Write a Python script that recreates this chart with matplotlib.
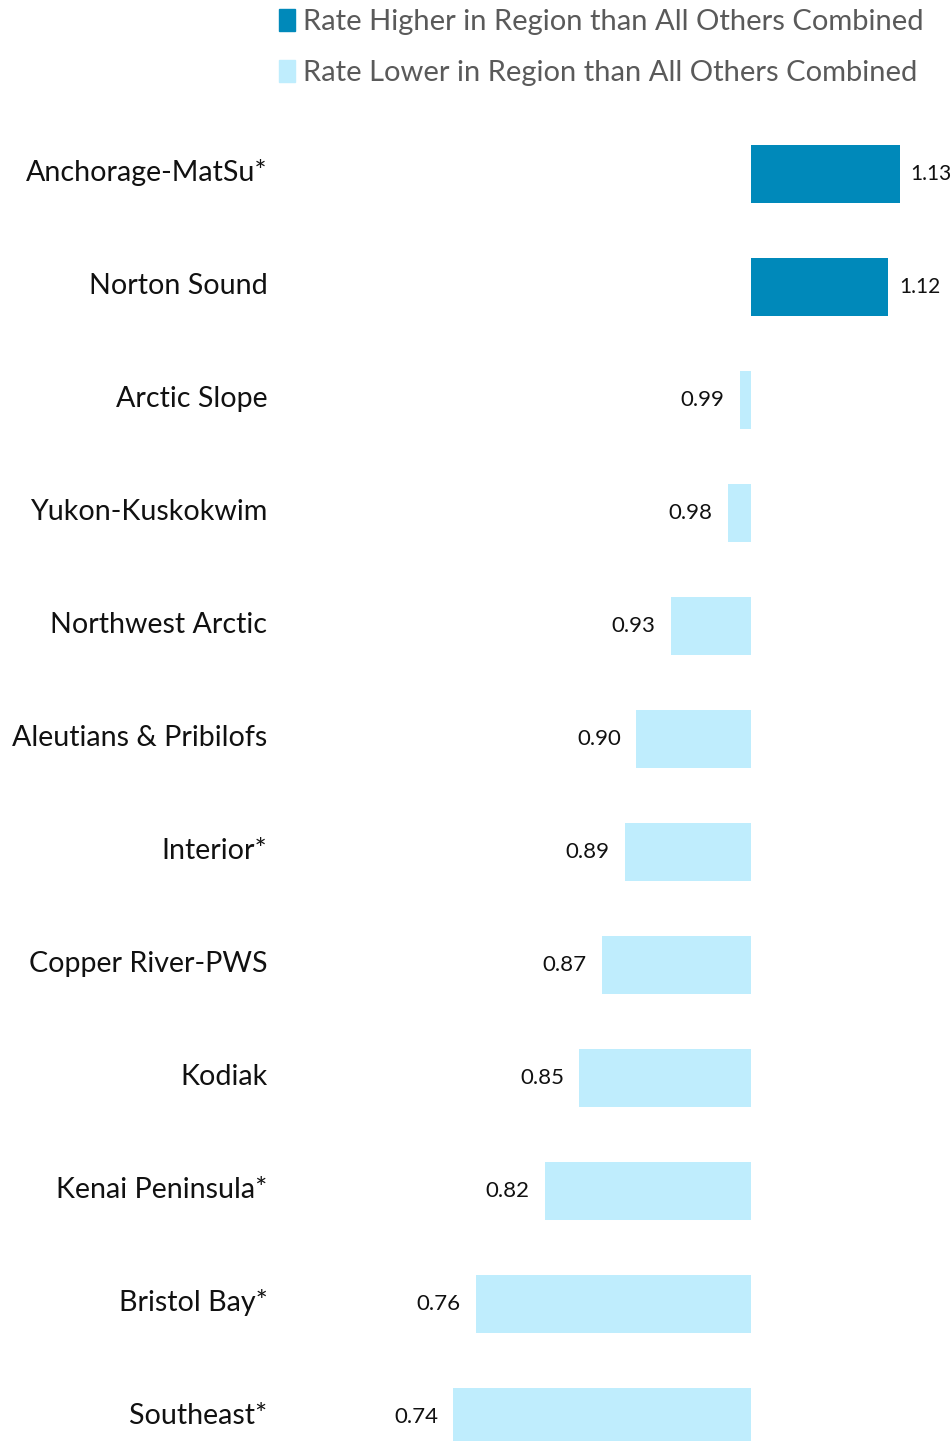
import matplotlib.pyplot as plt
import matplotlib.transforms as mtransforms
from matplotlib.patches import Patch

regions = ['Anchorage-MatSu*', 'Norton Sound', 'Arctic Slope', 'Yukon-Kuskokwim',
           'Northwest Arctic', 'Aleutians & Pribilofs', 'Interior*', 'Copper River-PWS',
           'Kodiak', 'Kenai Peninsula*', 'Bristol Bay*', 'Southeast*']
ratios = [1.13, 1.12, 0.99, 0.98, 0.93, 0.90, 0.89, 0.87, 0.85, 0.82, 0.76, 0.74]

dark = '#0089BA'
light = '#BFEDFD'

plt.rcParams['font.family'] = ['Lato', 'DejaVu Sans']

fig = plt.figure(figsize=(9.53, 14.41), dpi=100)
ax = fig.add_axes([280 / 953, 0, 673 / 953, 1])

ypos = list(range(len(regions)))
widths = [r - 1 for r in ratios]
colors = [dark if r > 1 else light for r in ratios]
ax.barh(ypos, widths, left=1, height=0.515, color=colors)

# value labels next to the free end of each bar
for y, r in zip(ypos, ratios):
    if r > 1:
        ax.annotate(f'{r:.2f}', (r, y), xytext=(7.5, 0), textcoords='offset points',
                    ha='left', va='center', fontsize=15, color='#111111')
    else:
        ax.annotate(f'{r:.2f}', (r, y), xytext=(-11, 0), textcoords='offset points',
                    ha='right', va='center', fontsize=16, color='#111111')

ax.set_xlim(1 - 471 / 1145, 1 + 202 / 1145)
ax.set_ylim(11.212, -1.54)
ax.set_yticks(ypos)
ax.set_yticklabels(regions, fontsize=20.6, color='#111111')
ax.tick_params(axis='y', length=0, pad=9)
shift = mtransforms.ScaledTranslation(0, 4 / 100, fig.dpi_scale_trans)
for lab in ax.get_yticklabels():
    lab.set_transform(lab.get_transform() + shift)
ax.set_xticks([])
for s in ax.spines.values():
    s.set_visible(False)

handles = [Patch(color=dark, label='Rate Higher in Region than All Others Combined'),
           Patch(color=light, label='Rate Lower in Region than All Others Combined')]
leg = fig.legend(handles=handles, loc='upper left', bbox_to_anchor=(267 / 953, 1.002),
                 frameon=False, fontsize=21, handlelength=0.55, handleheight=0.8,
                 handletextpad=0.3, labelspacing=0.85, borderaxespad=0)
for t in leg.get_texts():
    t.set_color('#5a5a5a')

fig.savefig('out.png', dpi=100)
